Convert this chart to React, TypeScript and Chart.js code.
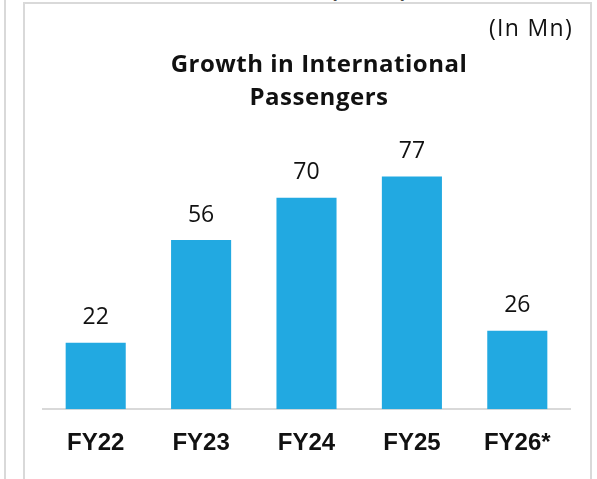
import React, { useEffect, useRef } from "react";
import { Chart, registerables } from "chart.js";

Chart.register(...registerables);

const categories = ["FY22", "FY23", "FY24", "FY25", "FY26*"];
const passengers = [22, 56, 70, 77, 26];
const titleLines = ["Growth in International", "Passengers"];
const unitLabel = "(In Mn)";

const BAR_COLOR = "#22A9E1";
const BORDER_COLOR = "#d9d9d9";

const valueLabels = {
  id: "valueLabels",
  afterDatasetsDraw(chart: any) {
    const ctx = chart.ctx;
    const meta = chart.getDatasetMeta(0);
    ctx.save();
    ctx.font = "400 23px 'Open Sans'";
    ctx.fillStyle = "#111111";
    ctx.textAlign = "center";
    ctx.textBaseline = "middle";
    meta.data.forEach((bar: any, i: number) => {
      ctx.fillText(String(passengers[i]), bar.x, bar.y - 25);
    });
    ctx.restore();
  },
};

export default function App() {
  const canvasRef = useRef<HTMLCanvasElement | null>(null);

  useEffect(() => {
    if (!canvasRef.current) return;
    const chart = new Chart(canvasRef.current, {
      type: "bar",
      data: {
        labels: categories,
        datasets: [
          {
            data: passengers,
            backgroundColor: BAR_COLOR,
            borderWidth: 0,
            barPercentage: 0.57,
            categoryPercentage: 1,
          },
        ],
      },
      options: {
        animation: false,
        responsive: false,
        maintainAspectRatio: false,
        layout: { padding: { left: 43, right: 27, top: 107, bottom: 1 } },
        plugins: {
          legend: { display: false },
          tooltip: { enabled: false },
          title: { display: false },
        },
        scales: {
          x: {
            grid: { display: false, drawTicks: false },
            border: { display: true, color: BORDER_COLOR, width: 2 },
            ticks: {
              color: "#111111",
              padding: 20,
              font: { family: "'Liberation Sans', Arial, sans-serif", size: 24, weight: "bold" },
            },
          },
          y: {
            display: false,
            min: 0,
            max: 100,
          },
        },
      },
      plugins: [valueLabels],
    });
    return () => chart.destroy();
  }, []);

  return (
    <div
      style={{
        position: "absolute",
        left: 0,
        top: 0,
        width: 597,
        height: 479,
        overflow: "hidden",
        background: "#ffffff",
      }}
    >
      <div style={{ position: "absolute", left: 4, top: 0, width: 2, height: 479, background: BORDER_COLOR }} />
      <div
        style={{
          position: "absolute",
          left: 23,
          top: 2,
          width: 565,
          height: 500,
          border: `2px solid ${BORDER_COLOR}`,
        }}
      />
      <div
        style={{
          position: "absolute",
          left: 330,
          top: -27,
          fontFamily: "'Open Sans', sans-serif",
          fontWeight: 700,
          fontSize: 22,
          color: "#111",
          whiteSpace: "nowrap",
        }}
      >
        {unitLabel}
      </div>
      <canvas
        ref={canvasRef}
        width={597}
        height={479}
        style={{ position: "absolute", left: 0, top: 0, width: 597, height: 479 }}
      />
      <div
        style={{
          position: "absolute",
          left: 0,
          top: 12,
          width: 573,
          textAlign: "right",
          fontFamily: "'Open Sans', sans-serif",
          fontSize: 23,
          letterSpacing: 1.3,
          lineHeight: "30px",
          color: "#111",
        }}
      >
        {unitLabel}
      </div>
      <div
        style={{
          position: "absolute",
          left: 119,
          top: 46,
          width: 400,
          textAlign: "center",
          fontFamily: "'Open Sans', sans-serif",
          fontWeight: 700,
          fontSize: 24,
          letterSpacing: 0.5,
          lineHeight: "33px",
          color: "#111",
        }}
      >
        {titleLines.map((l, i) => (
          <div key={i}>{l}</div>
        ))}
      </div>
    </div>
  );
}
